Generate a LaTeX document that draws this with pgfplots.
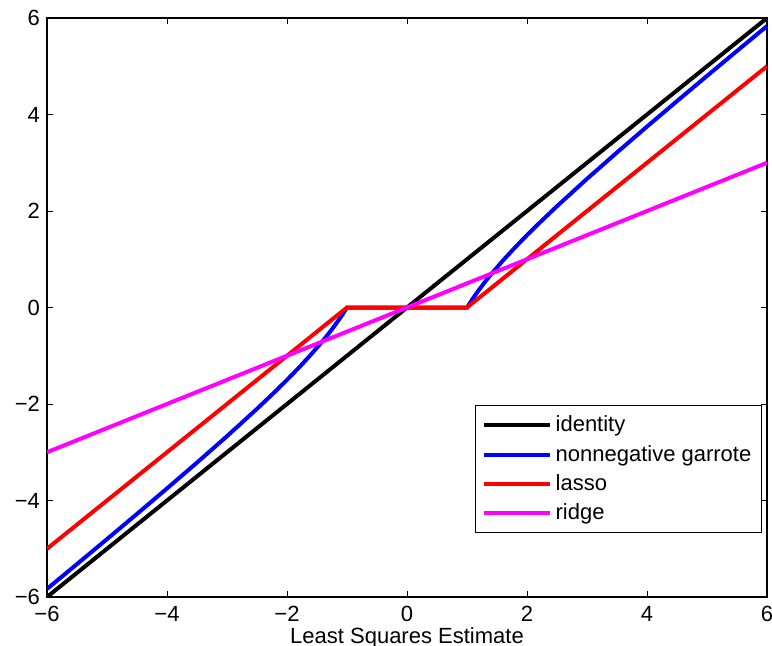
\documentclass[border=0pt]{standalone}
\usepackage{fontspec}
\setmainfont{Liberation Sans}
\usepackage{pgfplots}
\pgfplotsset{compat=1.18}
\definecolor{mlmagenta}{rgb}{1,0,1}
\begin{document}
\begin{tikzpicture}
\useasboundingbox (-23.5pt,-24pt) rectangle (362.5pt,298.5pt);
\begin{axis}[scale only axis, width=360pt, height=289.5pt,
  at={(0,0)}, anchor=south west,
  xmin=-6, xmax=6, ymin=-6, ymax=6,
  xtick={-6,-4,...,6}, ytick={-6,-4,...,6},
  xticklabels={−6,−4,−2,0,2,4,6}, yticklabels={−6,−4,−2,0,2,4,6},
  tick align=inside, major tick length=3pt,
  tick style={black, line width=0.5pt},
  axis line style={line width=0.6pt},
  tick label style={font=\fontsize{11}{13}\selectfont},
  xticklabel style={yshift=-1pt},
  label style={font=\fontsize{11}{13}\selectfont},
  xlabel={Least Squares Estimate},
  xlabel style={yshift=4pt},
  legend style={at={(0.993,0.11)}, anchor=south east, font=\fontsize{11}{13.5}\selectfont,
    draw=black, line width=0.6pt, row sep=1.2pt, inner xsep=3pt, inner ysep=3pt,
    cells={anchor=west}},
  legend image code/.code={\draw[#1, line width=2pt] (0pt,0pt) -- (33pt,0pt);},
  every axis plot/.append style={line width=2pt},
  clip=true]
\addplot[black] coordinates {(-6,-6)(6,6)};
\addlegendentry{identity}
\addplot[blue] coordinates {
(-6,-5.833)(-5.5,-5.318)(-5,-4.8)(-4.5,-4.278)(-4,-3.75)(-3.5,-3.214)(-3,-2.667)
(-2.5,-2.1)(-2.2,-1.745)(-2,-1.5)(-1.8,-1.244)(-1.6,-0.975)(-1.4,-0.686)(-1.3,-0.531)(-1.2,-0.367)(-1.1,-0.191)(-1,0)
(1,0)(1.1,0.191)(1.2,0.367)(1.3,0.531)(1.4,0.686)(1.6,0.975)(1.8,1.244)(2,1.5)(2.2,1.745)
(2.5,2.1)(3,2.667)(3.5,3.214)(4,3.75)(4.5,4.278)(5,4.8)(5.5,5.318)(6,5.833)};
\addlegendentry{nonnegative garrote}
\addplot[red] coordinates {(-6,-5)(-1,0)(1,0)(6,5)};
\addlegendentry{lasso}
\addplot[mlmagenta] coordinates {(-6,-3)(6,3)};
\addlegendentry{ridge}
\end{axis}
\end{tikzpicture}
\end{document}
